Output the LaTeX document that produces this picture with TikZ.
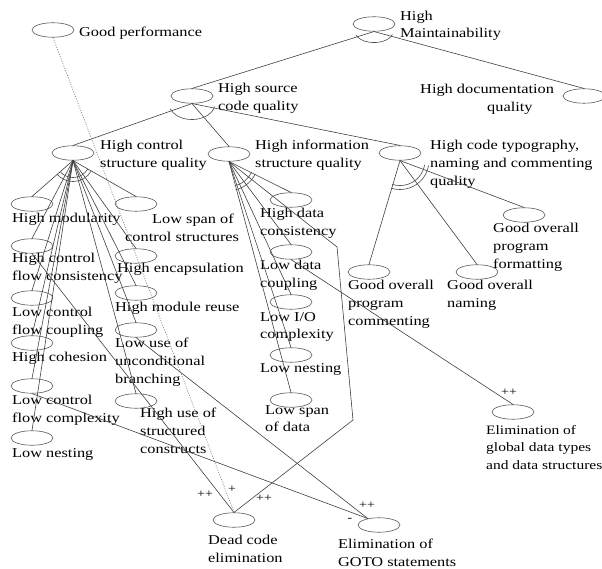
\documentclass[tikz,border=0pt]{standalone}
\usepackage{fontspec}
\setmainfont{Liberation Serif}[FakeStretch=1.21]
\usetikzlibrary{shapes.geometric}
\begin{document}
\begin{tikzpicture}[x=1pt,y=-1pt,
  ell/.style={draw=black!65, ellipse, minimum width=42pt, minimum height=14.5pt, inner sep=0pt, line width=0.6pt},
  lbl/.style={anchor=north west, inner sep=0pt, align=left, font=\fontsize{13.5}{17.8}\selectfont},
  conn/.style={draw=black!75, line width=0.6pt},
  dotconn/.style={draw=black!55, line width=0.6pt, dash pattern=on 1pt off 1.5pt},
  sign/.style={inner sep=0pt, font=\fontsize{11.5}{12}\selectfont},
  arcline/.style={draw=black!70, line width=0.6pt}
]
\fill[white] (0,0) rectangle (602,569);
\useasboundingbox (0,0) rectangle (602,569);

% ellipses
\node[ell] (gp) at (53,30) {};
\node[ell] (hm) at (374,24) {};
\node[ell] (hdq) at (584,96) {};
\node[ell] (sq) at (192,96) {};
\node[ell] (cs) at (73,153) {};
\node[ell] (is) at (229,154) {};
\node[ell] (ct) at (400,153) {};
\node[ell] (mod) at (32,204) {};
\node[ell] (lsc) at (136,204) {};
\node[ell] (cfc) at (32,246) {};
\node[ell] (enc) at (136,256) {};
\node[ell] (mr) at (136,293) {};
\node[ell] (cfcp) at (32,298) {};
\node[ell] (luub) at (136,330) {};
\node[ell] (coh) at (32,343) {};
\node[ell] (cfcx) at (32,386) {};
\node[ell] (hus) at (136,401) {};
\node[ell] (lnA) at (32,438) {};
\node[ell] (hdc) at (291,200) {};
\node[ell] (ldc) at (291,252) {};
\node[ell] (lio) at (291,302) {};
\node[ell] (lnB) at (291,355) {};
\node[ell] (lsd) at (291,400) {};
\node[ell] (gof) at (524,215) {};
\node[ell] (gon) at (477,272) {};
\node[ell] (goc) at (369,272) {};
\node[ell] (dce) at (234,520) {};
\node[ell] (egoto) at (379,525) {};
\node[ell] (egd) at (513,412) {};

% labels
\node[lbl] (tgp) at (79,27) {Good performance};
\node[lbl, font=\fontsize{13.5}{16.5}\selectfont] (thm) at (400,11) {High\\Maintainability};
\node[lbl] (thdq) at (420,84) {High documentation\\\hspace*{67pt}quality};
\node[lbl] (tsq) at (218,83) {High source\\code quality};
\node[lbl] (tcs) at (100,140) {High control\\structure quality};
\node[lbl] (tis) at (255,140) {High information\\structure quality};
\node[lbl] (tct) at (430,140) {High code typography,\\naming and commenting\\quality};
\node[lbl] (tmod) at (12,213) {High modularity};
\node[lbl] (tlsc) at (125,214) {\hspace*{27pt}Low span of\\control structures};
\node[lbl] (tcfc) at (12,253) {High control\\flow consistency};
\node[lbl] (tenc) at (117,263) {High encapsulation};
\node[lbl] (tmr) at (115,302) {High module reuse};
\node[lbl] (tcfcp) at (12,307) {Low control\\flow coupling};
\node[lbl] (tluub) at (115,338) {Low use of\\unconditional\\branching};
\node[lbl] (tcoh) at (12,352) {High cohesion};
\node[lbl] (tcfcx) at (12,395) {Low control\\flow complexity};
\node[lbl] (thus) at (140,408) {High use of\\structured\\constructs};
\node[lbl] (tlnA) at (12,448) {Low nesting};
\node[lbl] (thdc) at (260,208) {High data\\consistency};
\node[lbl] (tldc) at (260,260) {Low data\\coupling};
\node[lbl] (tlio) at (260,312) {Low I/O\\complexity};
\node[lbl] (tlnB) at (260,363) {Low nesting};
\node[lbl] (tlsd) at (265,405) {Low span\\of data};
\node[lbl] (tgof) at (493,223) {Good overall\\program\\formatting};
\node[lbl] (tgon) at (447,280) {Good overall\\naming};
\node[lbl] (tgoc) at (348,280) {Good overall\\program\\commenting};
\node[lbl] (tdce) at (208,535) {Dead code\\elimination};
\node[lbl] (tegoto) at (338,539) {Elimination of\\GOTO statements};
\node[lbl, font=\fontsize{12.8}{17.5}\selectfont] (tegd) at (486,425) {Elimination of\\global data types\\and data structures};

% decomposition connectors
\draw[conn] (hm.south) -- (sq.north);
\draw[conn] (hm.south) -- (hdq.north);
\draw[conn] (sq.south) -- (cs.north);
\draw[conn] (sq.south) -- (is.north);
\draw[conn] (sq.south) -- (ct.north);
\foreach \c in {mod,lsc,cfc,enc,mr,cfcp,luub,coh,cfcx,hus,lnA}
  \draw[conn] (cs.south) -- (\c.north);
\foreach \c in {hdc,ldc,lio,lnB,lsd}
  \draw[conn] (is.south) -- (\c.north);
\foreach \c in {gof,gon,goc}
  \draw[conn] (ct.south) -- (\c.north);

% AND arcs
\draw[arcline] (hm.south) ++(15:19 and 11) arc[start angle=15, end angle=163, x radius=19, y radius=11];
\draw[arcline] (sq.south) ++(11:23 and 16) arc[start angle=11, end angle=161, x radius=23, y radius=16];
\draw[arcline] (cs.south) ++(30:17) arc[start angle=30, end angle=139, radius=17];
\draw[arcline] (cs.south) ++(30:21) arc[start angle=30, end angle=139, radius=21];
\draw[arcline] (is.south) ++(25:25) arc[start angle=25, end angle=77, radius=25];
\draw[arcline] (is.south) ++(25:29) arc[start angle=25, end angle=77, radius=29];
\draw[arcline] (ct.south) ++(10:25) arc[start angle=10, end angle=108, radius=25];
\draw[arcline] (ct.south) ++(10:29) arc[start angle=10, end angle=108, radius=29];

% contribution connectors
\coordinate (b1) at (337,247);
\coordinate (b2) at (353,420);
\draw[conn] (is.south) -- (b1) -- (b2) -- (dce.north);
\draw[conn] (cfc.south) -- (dce.north);
\draw[dotconn] (gp.south) -- (dce.north);
\draw[conn] (luub.south) -- (egoto.150);
\draw[conn] (cfcx.south) -- (egoto.150);
\draw[conn] (ldc.south) -- (egd.north);

\node[sign] (s1) at (205,494) {++};
\node[sign] (s2) at (232,489) {+};
\node[sign] (s3) at (264,498) {++};
\node[sign] (s4) at (367,505) {++};
\node[sign] (s5) at (350,520) {-};
\node[sign] (s6) at (509,392) {++};
\end{tikzpicture}
\end{document}
